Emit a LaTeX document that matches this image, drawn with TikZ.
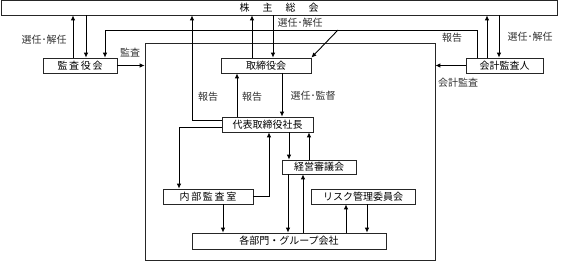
\documentclass[tikz,border=0pt]{standalone}
\usepackage{fontspec}
\setmainfont{Noto Sans CJK JP}
\usetikzlibrary{arrows.meta}
\begin{document}
\begin{tikzpicture}[x=1pt,y=-1pt,
  box/.style={draw=black!85, line width=0.7pt, rectangle, inner sep=0pt, minimum height=15pt, font=\fontsize{10}{10}\selectfont},
  arr/.style={line width=0.9pt, -{Latex[length=5pt,width=4.5pt]}},
  ln/.style={line width=0.9pt},
  lbl/.style={inner sep=0pt, font=\fontsize{10}{10}\selectfont, text=black!80}]
\useasboundingbox (0,0) rectangle (562,262);
% boxes
\node[box, minimum width=556pt] (sh) at (279,7.5) {株\hspace{13pt}主\hspace{13pt}総\hspace{13pt}会};
\node[draw=black!85, line width=0.7pt, rectangle, inner sep=0pt, minimum width=290pt, minimum height=217pt] (org) at (290,151.5) {};
\node[box, minimum width=74pt] (kansa) at (80,65.5) {監\,査\,役\,会};
\node[box, minimum width=90pt] (tori) at (266,65.5) {取締役会};
\node[box, minimum width=77pt] (kaikei) at (504.5,65.5) {会計監査人};
\node[box, minimum width=91pt] (ceo) at (267.5,124.5) {代表取締役社長};
\node[box, minimum width=74pt, minimum height=14pt] (keiei) at (319,167) {経営審議会};
\node[box, minimum width=90pt] (naibu) at (208,196.5) {内\,部\,監\,査\,室};
\node[box, minimum width=104pt] (risk) at (363,196.5) {リスク管理委員会};
\node[box, minimum width=194pt, minimum height=16pt] (kaku) at (289,241) {各部門・グループ会社};
% connectors: top
\draw[arr] (73,0 |- kansa.north) -- (73,0 |- sh.south);
\draw[arr] (86,0 |- sh.south) -- (86,0 |- kansa.north);
\draw[arr] (252,0 |- tori.north) -- (252,0 |- sh.south);
\draw[arr] (273,0 |- sh.south) -- (273,0 |- tori.north);
\draw[arr] (487,0 |- kaikei.north) -- (487,0 |- sh.south);
\draw[arr] (499,0 |- sh.south) -- (499,0 |- kaikei.north);
% report line from auditor
\coordinate (rpR) at (477,30);
\coordinate (rpL) at (105,30);
\coordinate (rpD) at (338,30);
\draw[arr] (477,0 |- kaikei.north) -- (rpR) -- (rpL) -- (105,0 |- kansa.north);
\draw[arr] (rpD) -- (tori.north east);
% audit arrows
\draw[arr] (kansa.east) -- (kansa.east -| org.west);
\draw[arr] (kaikei.west) -- (kaikei.west -| org.east);
% ceo report to shareholders
\coordinate (c1) at (192,120);
\draw[arr] (ceo.west |- c1) -- (c1) -- (192,0 |- sh.south);
\draw[arr] (237,0 |- ceo.north) -- (237,0 |- tori.south);
\draw[arr] (282,0 |- tori.south) -- (282,0 |- ceo.north);
% lower
\coordinate (c2) at (179,127);
\draw[arr] (ceo.west |- c2) -- (c2) -- (179,0 |- naibu.north);
\coordinate (c3) at (269,196);
\draw[arr] (naibu.east |- c3) -- (c3) -- (269,0 |- ceo.south);
\draw[arr] (289,0 |- ceo.south) -- (289,0 |- keiei.north);
\draw[arr] (309,0 |- keiei.north) -- (309,0 |- ceo.south);
\draw[arr] (223,0 |- naibu.south) -- (223,0 |- kaku.north);
\draw[arr] (288,0 |- keiei.south) -- (288,0 |- kaku.north);
\draw[arr] (303,0 |- kaku.north) -- (303,0 |- keiei.south);
\draw[arr] (346,0 |- kaku.north) -- (346,0 |- risk.south);
\draw[arr] (367,0 |- risk.south) -- (367,0 |- kaku.north);
% labels
\node[lbl] (l1) at (44,40) {選任･解任};
\node[lbl] (l2) at (130,53) {監査};
\node[lbl] (l3) at (208,97) {報告};
\node[lbl] (l4) at (252,97) {報告};
\node[lbl] (l5) at (300,23) {選任･解任};
\node[lbl] (l6) at (313,96) {選任･監督};
\node[lbl] (l7) at (452,38) {報告};
\node[lbl] (l8) at (530,37) {選任･解任};
\node[lbl] (l9) at (458,83) {会計監査};
\end{tikzpicture}
\end{document}
